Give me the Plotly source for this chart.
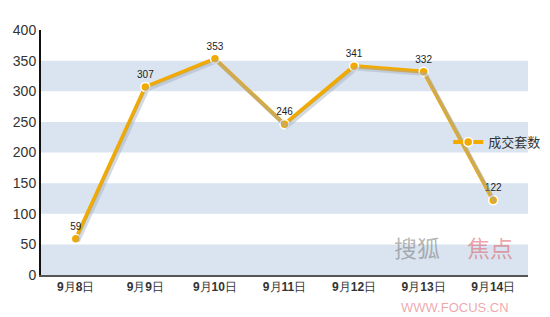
import plotly.graph_objects as go

categories = ["9月8日", "9月9日", "9月10日", "9月11日", "9月12日", "9月13日", "9月14日"]
values = [59, 307, 353, 246, 341, 332, 122]
y_ticks = [0, 50, 100, 150, 200, 250, 300, 350, 400]
series_name = "成交套数"

tick_text = [f"<b>{c.replace('9月', '9</b>月<b>').replace('日', '</b>日')}" for c in categories]

x_idx = list(range(len(categories)))
fig = go.Figure()

# shadow line
fig.add_trace(go.Scatter(x=x_idx, y=values, mode="lines", xaxis="x2", yaxis="y2",
                         line=dict(color="rgba(160,172,190,0.45)", width=4),
                         showlegend=False, hoverinfo="skip"))
fig.add_trace(go.Scatter(
    x=x_idx, y=values, mode="lines+markers+text", name=series_name,
    line=dict(color="#f2a900", width=4),
    marker=dict(size=9, color="#f2a900", line=dict(color="white", width=1.5)),
    text=[str(v) for v in values], textposition="top center",
    textfont=dict(size=10, color="#222", family="Arial"),
))

shapes = []
for lo in range(0, 400, 100):
    shapes.append(dict(type="rect", xref="x domain", yref="y", x0=0, x1=1, y0=lo, y1=lo + 50,
                       fillcolor="#d9e4f0", line=dict(width=0), layer="below"))

dom = [0, 487 / 509]
fig.update_layout(
    width=550, height=317,
    margin=dict(l=41, r=0, t=30, b=42),
    paper_bgcolor="white", plot_bgcolor="white",
    shapes=shapes,
    xaxis=dict(domain=dom, range=[-0.5, 6.5], tickvals=x_idx, ticktext=tick_text, showgrid=False,
               zeroline=False, showline=True, linecolor="#555", linewidth=2, ticks="",
               tickfont=dict(size=12, color="#333", family="Arial")),
    yaxis=dict(range=[0, 400], tickvals=y_ticks, showgrid=False, zeroline=False,
               showline=True, linecolor="#111", linewidth=2, ticks="",
               tickfont=dict(size=14, color="#333", family="Arial")),
    xaxis2=dict(domain=dom, range=[-0.5 - 0.03, 6.5 - 0.03], overlaying="x", visible=False),
    yaxis2=dict(range=[0 + 4, 400 + 4], overlaying="y", visible=False),
    showlegend=True,
    legend=dict(x=0.80, y=0.543, xanchor="left", yanchor="middle",
                bgcolor="rgba(0,0,0,0)", itemwidth=30,
                font=dict(size=13, color="#333", family="Noto Sans CJK SC")),
    annotations=[
        dict(text="搜狐", x=0.739, y=0.035, xref="paper", yref="paper", showarrow=False,
             xanchor="center",
             font=dict(size=23, color="rgba(120,120,120,0.55)", family="Noto Sans CJK SC")),
        dict(text="焦点", x=0.882, y=0.035, xref="paper", yref="paper", showarrow=False,
             xanchor="center",
             font=dict(size=23, color="rgba(220,80,90,0.5)", family="Noto Sans CJK SC")),
        dict(text="WWW.FOCUS.CN", x=0.813, y=-0.17, xref="paper", yref="paper", showarrow=False,
             xanchor="center",
             font=dict(size=13, color="rgba(220,80,90,0.5)", family="Arial")),
    ],
)

fig.write_html("out.html")
